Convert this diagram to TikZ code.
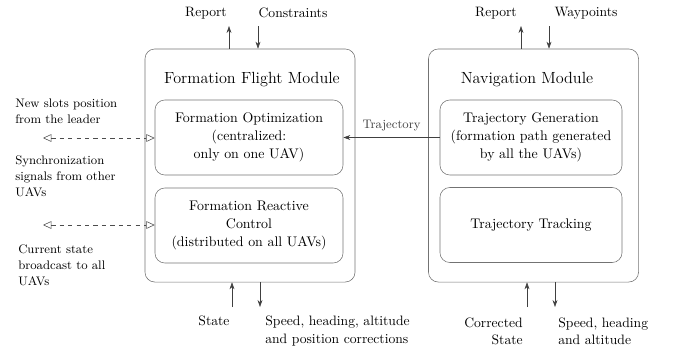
\documentclass[tikz,border=0pt]{standalone}
\usetikzlibrary{arrows.meta}

\tikzset{
	module/.style={draw=black!55, rounded corners=7pt, minimum width=5.25cm, minimum height=5.825cm},
	block/.style={draw=black!55, rounded corners=7pt, minimum height=1.875cm, align=center, font=\fontsize{9.9}{12.6}\selectfont},
	title/.style={font=\fontsize{11.5}{15}\selectfont},
	lbl/.style={font=\fontsize{9.7}{12.2}\selectfont, inner sep=0pt},
	side/.style={font=\fontsize{8.8}{11.4}\selectfont, inner sep=0pt, align=left, anchor=west},
	sig/.style={-{Stealth[length=5pt,width=3.5pt]}, black!75},
	msg/.style={{Triangle[open,length=6pt,width=5.5pt]}-{Triangle[open,length=6pt,width=5.5pt]}, dashed, black!70},
}

\begin{document}
\begin{tikzpicture}[x=0.025cm, y=-0.025cm]
				%%%%% START %%%%%
				\useasboundingbox (0,0) rectangle (678,349);

				% the two modules
				\node[module] (ffm) at (250,165.5) {};
				\node[title] (fftitle) at (252,80) {Formation Flight Module};
				\node[module] (nvm) at (533.5,165.5) {};
				\node[title] (nvtitle) at (527,80) {Navigation Module};

				% inner blocks
				\node[block, minimum width=4.7cm] (fopt) at (249,137.5) {Formation Optimization\\(centralized:\\only on one UAV)};
				\node[block, minimum width=4.7cm] (freac) at (249,225.5) {Formation Reactive\\Control\\(distributed on all UAVs)};
				\node[block, minimum width=4.55cm] (tgen) at (531,137.5) {Trajectory Generation\\(formation path generated\\by all the UAVs)};
				\node[block, minimum width=4.55cm] (ttrack) at (531,225) {Trajectory Tracking};

				\draw[sig] (tgen.west) -- (fopt.east) node[midway, above=1pt, font=\fontsize{8.8}{11}\selectfont] (trajlbl) {Trajectory};

				% inputs and outputs on top
				\coordinate (ffrep) at (229,26);
				\coordinate (ffcon) at (258,26);
				\coordinate (nvrep) at (521,26);
				\coordinate (nvway) at (549,26);
				\node[lbl] (ffreplbl) at (206,13) {Report};
				\node[lbl] (ffconlbl) at (293,13) {Constraints};
				\node[lbl] (nvreplbl) at (496,13) {Report};
				\node[lbl] (nvwaylbl) at (586,13) {Waypoints};
				\draw[sig] (ffrep |- ffm.north) -- (ffrep);
				\draw[sig] (ffcon) -- (ffcon |- ffm.north);
				\draw[sig] (nvrep |- nvm.north) -- (nvrep);
				\draw[sig] (nvway) -- (nvway |- nvm.north);

				% inputs and outputs below
				\coordinate (ffst) at (232,307);
				\coordinate (ffcmd) at (260,307);
				\coordinate (nvst) at (527,307);
				\coordinate (nvcmd) at (555,307);
				\draw[sig] (ffst) -- (ffst |- ffm.south);
				\draw[sig] (ffcmd |- ffm.south) -- (ffcmd);
				\draw[sig] (nvst) -- (nvst |- nvm.south);
				\draw[sig] (nvcmd |- nvm.south) -- (nvcmd);
				\node[lbl] (ffstlbl) at (214,321) {State};
				\node[lbl, align=left, anchor=west] (ffcmdlbl) at (265,331) {Speed, heading, altitude\\and position corrections};
				\node[lbl, align=right, anchor=east] (nvstlbl) at (523,331) {Corrected\\State};
				\node[lbl, align=left, anchor=west] (nvcmdlbl) at (558,331) {Speed, heading\\and altitude};

				% exchanges with the other UAVs
				\coordinate (lead) at (43,138);
				\coordinate (bcast) at (43,225);
				\draw[msg] (lead) -- (lead -| fopt.west);
				\draw[msg] (bcast) -- (bcast -| freac.west);
				\node[side] (leadlbl) at (15,111) {New slots position\\from the leader};
				\node[side] (synclbl) at (15,176) {Synchronization\\signals from other\\UAVs};
				\node[side] (bcastlbl) at (18,265) {Current state\\broadcast to all\\UAVs};
				%%%%% END %%%%%
\end{tikzpicture}
\end{document}
